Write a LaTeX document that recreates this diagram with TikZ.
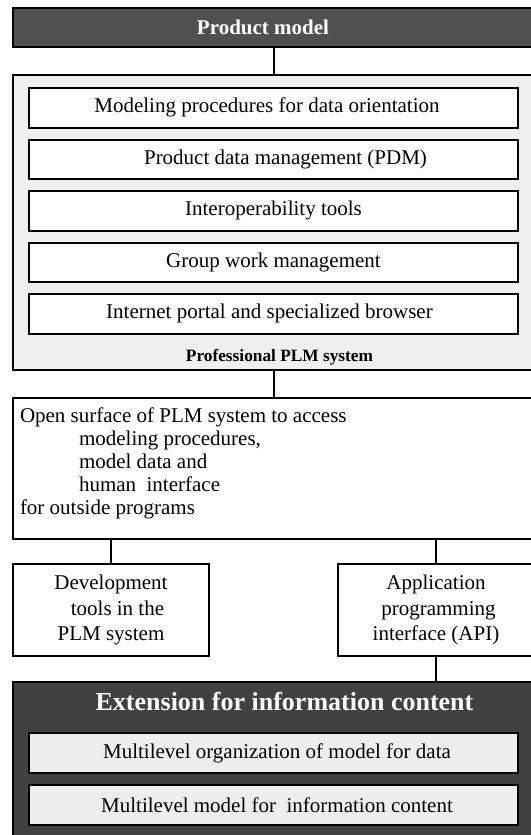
\documentclass[tikz,border=0pt]{standalone}
\usepackage{fontspec}
\setmainfont{Liberation Serif}
\definecolor{headgray}{HTML}{505050}
\definecolor{extgray}{HTML}{414141}
\definecolor{panelgray}{HTML}{EFEFEF}
\definecolor{cellgray}{HTML}{EEEEEE}
\begin{document}
\begin{tikzpicture}[x=1pt,y=-1pt,line width=2pt,
  txt/.style={font=\fontsize{21}{25.5}\selectfont},
  frame/.style={draw=black,line width=2pt,rectangle,inner sep=0pt},
  wide/.style={frame,minimum width=521pt},
  cell/.style={frame,minimum width=489pt,minimum height=39.5pt,fill=white},
  extcell/.style={frame,minimum width=489pt,minimum height=40pt,fill=cellgray},
  link/.style={draw=black,line width=2pt}]
\useasboundingbox (0,0) rectangle (530,835);

% top header
\node[wide,fill=headgray,minimum height=39pt] (pm) at (273.5,27.5) {};
\node[txt,font=\fontsize{21}{25}\selectfont\bfseries,text=white] (pmt) at (263,27.5) {Product model};

% professional PLM system panel with its tool boxes
\node[wide,fill=panelgray,minimum height=295pt] (plm) at (273.5,222.5) {};
\node[cell,txt] (c1) at (273.5,107.75) {\hspace*{-13pt}Modeling procedures for data orientation};
\node[cell,txt] (c2) at (273.5,159.25) {\hspace*{24pt}Product data management (PDM)};
\node[cell,txt] (c3) at (273.5,210.75) {Interoperability tools};
\node[cell,txt] (c4) at (273.5,262.25) {Group work management};
\node[cell,txt] (c5) at (273.5,313.75) {\hspace*{-8pt}Internet portal and specialized browser};
\node[font=\fontsize{17.3}{20}\selectfont\bfseries] (plmt) at (279.5,357) {Professional PLM system};

% open surface
\node[wide,fill=white,minimum height=141pt] (open) at (273.5,468) {};
\node[anchor=north west,inner sep=0pt,align=left,font=\fontsize{21}{23}\selectfont] (opent) at (19,407)
  {Open surface of PLM system to access\\
   \hspace*{59pt}modeling procedures,\\
   \hspace*{59pt}model data and\\
   \hspace*{59pt}human\ \ interface\\
   for outside programs};

% development tools and API
\node[frame,fill=white,minimum width=196pt,minimum height=92pt,align=center,txt] (dev) at (111,610)
  {Development\\ \hspace*{13pt}tools in the\\ PLM system};
\node[frame,fill=white,minimum width=196pt,minimum height=92pt,align=center,txt] (api) at (436,610)
  {Application\\ \hspace*{5pt}programming\\ interface (API)};

% extension panel
\node[wide,fill=extgray,minimum height=163pt] (ext) at (273.5,763.5) {};
\node[font=\fontsize{26}{30}\selectfont\bfseries,text=white] (extt) at (284.5,701) {Extension for information content};
\node[extcell,txt] (e1) at (273.5,753) {\hspace*{7pt}Multilevel organization of model for data};
\node[extcell,txt] (e2) at (273.5,805) {\hspace*{7pt}Multilevel model for\ \ information content};

% connectors
\draw[link] (pm.south) -- (plm.north);
\draw[link] (plm.south) -- (open.north);
\draw[link] (open.south -| dev.north) -- (dev.north);
\draw[link] (open.south -| api.north) -- (api.north);
\draw[link] (api.south) -- (ext.north -| api.south);
\end{tikzpicture}
\end{document}
